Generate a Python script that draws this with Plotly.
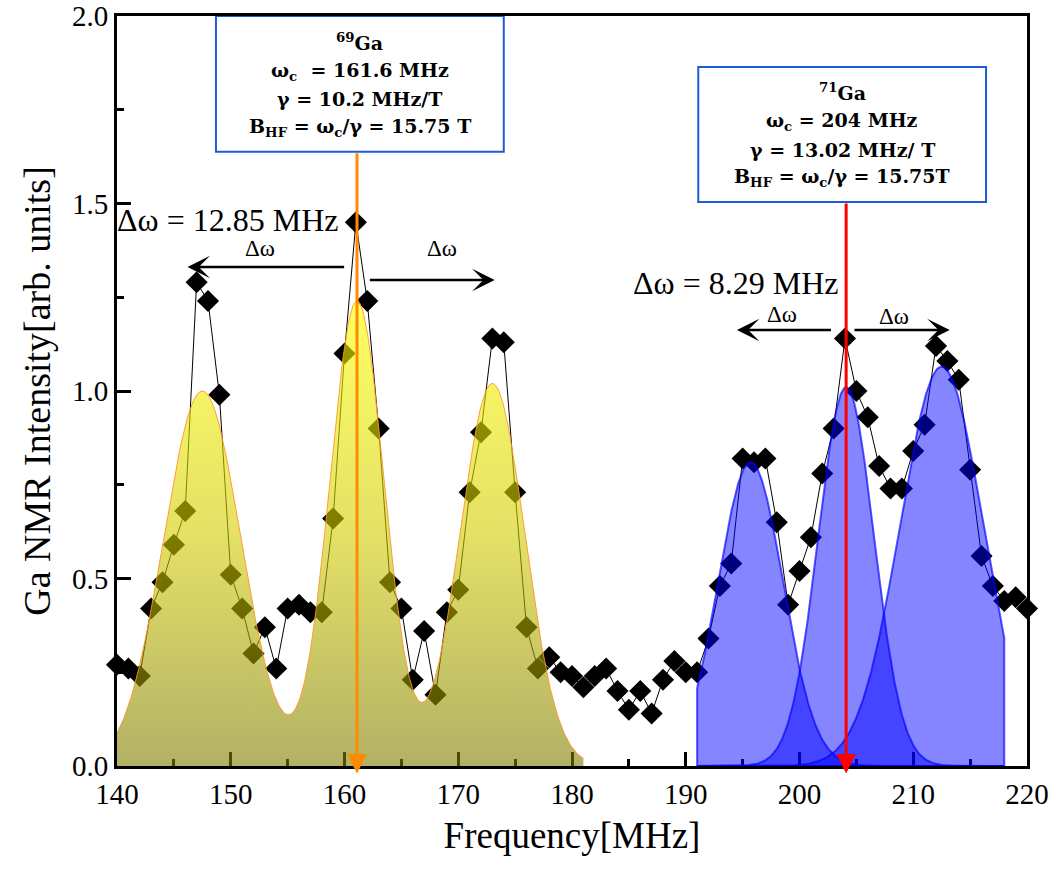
import numpy as np
import plotly.graph_objects as go

# ---------------- data ----------------
freq = list(range(140, 221))
intensity = [0.27, 0.26, 0.24, 0.42, 0.49, 0.59, 0.68, 1.29, 1.24, 0.99,
             0.51, 0.42, 0.30, 0.37, 0.26, 0.42, 0.43, 0.41, 0.41, 0.66,
             1.10, 1.45, 1.24, 0.90, 0.49, 0.42, 0.23, 0.36, 0.19, 0.41,
             0.47, 0.73, 0.89, 1.14, 1.13, 0.73, 0.37, 0.26, 0.29, 0.25,
             0.24, 0.21, 0.24, 0.26, 0.20, 0.15, 0.20, 0.14, 0.23, 0.28,
             0.25, 0.25, 0.34, 0.48, 0.54, 0.82, 0.81, 0.82, 0.65, 0.43,
             0.52, 0.61, 0.78, 0.90, 1.14, 1.00, 0.93, 0.80, 0.74, 0.74,
             0.84, 0.91, 1.12, 1.08, 1.03, 0.79, 0.56, 0.48, 0.44, 0.45,
             0.42]

# fitted Gaussian peaks (centre, amplitude, width)
ga69_centers = [147.5, 161.1, 173.0]
ga69_amps = [1.00, 1.24, 1.02]
ga69_sigmas = [3.4, 2.4, 2.85]
ga69_span = [140, 181]

ga71_centers = [195.7, 204.1, 212.5]
ga71_amps = [0.81, 1.01, 1.065]
ga71_sigmas = [2.85, 2.45, 3.65]
ga71_span = [191, 218]

ga69_line_x = 161.1
ga71_line_x = 204.1

x_ticks = [140, 150, 160, 170, 180, 190, 200, 210, 220]
y_ticks = [0.0, 0.5, 1.0, 1.5, 2.0]

box69_lines = ["<b><sup>69</sup>Ga</b>",
               "<b>ω<sub>c</sub>  = 161.6 MHz</b>",
               "<b>γ = 10.2 MHz/T</b>",
               "<b>B<sub>HF</sub> = ω<sub>c</sub>/γ = 15.75 T</b>"]
box69_line_y = [1.930, 1.851, 1.779, 1.702]
box71_lines = ["<b><sup>71</sup>Ga</b>",
               "<b>ω<sub>c</sub> = 204 MHz</b>",
               "<b>γ = 13.02 MHz/ T</b>",
               "<b>B<sub>HF</sub> = ω<sub>c</sub>/γ = 15.75T</b>"]
box71_line_y = [1.797, 1.718, 1.643, 1.569]
dw69_text = "Δω = 12.85 MHz"
dw71_text = "Δω = 8.29 MHz"
dw_small = "Δω"
x_title = "Frequency[MHz]"
y_title = "Ga NMR Intensity[arb. units]"

FONT = "Times New Roman, Liberation Serif, serif"
BOX_FONT = "DejaVu Serif, serif"


def gauss(x, c, a, s):
    return a * np.exp(-(x - c) ** 2 / (2 * s ** 2))


fig = go.Figure()

# measured spectrum
fig.add_trace(go.Scatter(
    x=freq, y=intensity, mode="lines+markers",
    line=dict(color="black", width=1),
    marker=dict(symbol="diamond", size=17, color="black"),
    cliponaxis=False, showlegend=False))

# 69Ga fit (sum of three gaussians), yellow gradient
xs = np.linspace(ga69_span[0], ga69_span[1], 500)
ys = sum(gauss(xs, c, a, s) for c, a, s in zip(ga69_centers, ga69_amps, ga69_sigmas))
fig.add_trace(go.Scatter(
    x=xs, y=ys, mode="lines", fill="tozeroy",
    line=dict(color="rgba(255,150,40,0.9)", width=1),
    fillgradient=dict(type="vertical", start=0, stop=1.24,
                      colorscale=[[0, "rgba(128,124,0,0.6)"],
                                  [0.5, "rgba(210,205,0,0.6)"],
                                  [1, "rgba(255,255,0,0.62)"]]),
    showlegend=False, hoverinfo="skip"))

# 71Ga fits, three separate blue gaussians
xb = np.linspace(ga71_span[0], ga71_span[1], 400)
for c, a, s in zip(ga71_centers, ga71_amps, ga71_sigmas):
    yb = gauss(xb, c, a, s)
    px = np.concatenate([xb, [xb[-1], xb[0], xb[0]]])
    py = np.concatenate([yb, [0, 0, yb[0]]])
    fig.add_trace(go.Scatter(
        x=px, y=py, mode="lines", fill="toself",
        fillcolor="rgba(0,0,255,0.48)",
        line=dict(color="rgba(0,0,255,0.65)", width=2),
        showlegend=False, hoverinfo="skip"))

# info boxes
fig.add_shape(type="rect", xref="x", yref="y", x0=148.7, x1=174.0, y0=1.638, y1=2.0,
              fillcolor="white", line=dict(color="#1F5BD8", width=2), layer="above")
fig.add_shape(type="rect", xref="x", yref="y", x0=191.1, x1=216.4, y0=1.504, y1=1.864,
              fillcolor="white", line=dict(color="#1F5BD8", width=2), layer="above")

for t, y in zip(box69_lines, box69_line_y):
    fig.add_annotation(x=161.35, y=y, xref="x", yref="y", text=t, showarrow=False,
                       font=dict(family=BOX_FONT, size=19, color="black"), align="center")
for t, y in zip(box71_lines, box71_line_y):
    fig.add_annotation(x=203.75, y=y, xref="x", yref="y", text=t, showarrow=False,
                       font=dict(family=BOX_FONT, size=19, color="black"), align="center")


def arrow(x_tail, y_tail, x_head, y_head, color, width, head, size):
    fig.add_annotation(x=x_head, y=y_head, ax=x_tail, ay=y_tail,
                       xref="x", yref="y", axref="x", ayref="y",
                       text="", showarrow=True, arrowhead=head, arrowsize=size,
                       arrowwidth=width, arrowcolor=color, standoff=0, startstandoff=0)


# vertical centre lines
arrow(ga69_line_x, 1.638, ga69_line_x, -0.02, "#FF8C00", 3, 2, 1.3)
arrow(ga71_line_x, 1.504, ga71_line_x, -0.02, "#FF0000", 3, 2, 1.3)

# delta-omega arrows
arrow(160.1, 1.331, 146.2, 1.331, "black", 2.5, 3, 1.5)
arrow(162.1, 1.296, 173.2, 1.296, "black", 2.5, 3, 1.5)
arrow(202.9, 1.163, 194.5, 1.163, "black", 2.5, 3, 1.5)
arrow(204.7, 1.163, 213.2, 1.163, "black", 2.5, 3, 1.5)

for (x, y, t, sz) in [(149.7, 1.456, dw69_text, 32), (194.4, 1.288, dw71_text, 32),
                      (152.6, 1.38, dw_small, 23), (168.6, 1.38, dw_small, 23),
                      (198.5, 1.203, dw_small, 23), (208.3, 1.198, dw_small, 23)]:
    fig.add_annotation(x=x, y=y, xref="x", yref="y", text=t, showarrow=False,
                       font=dict(family=FONT, size=sz, color="black"))

axis_common = dict(
    showline=True, linecolor="black", linewidth=3, mirror=True,
    ticks="inside", ticklen=14, tickwidth=2.5, tickcolor="black",
    showgrid=False, zeroline=False, layer="below traces",
    ticklabeloverflow="allow",
    tickfont=dict(family=FONT, size=29, color="black"),
)

fig.update_xaxes(range=[140, 220], tickvals=x_ticks, ticktext=[str(v) for v in x_ticks],
                 minor=dict(ticks="inside", ticklen=7, tickwidth=2.5, dtick=5, tick0=140,
                            tickcolor="black", showgrid=False),
                 title=dict(text=x_title, font=dict(family=FONT, size=37, color="black"),
                            standoff=14),
                 **axis_common)
fig.update_yaxes(range=[0, 2], tickvals=y_ticks, ticktext=[f"{v:.1f}" for v in y_ticks],
                 minor=dict(ticks="inside", ticklen=7, tickwidth=2.5, dtick=0.25, tick0=0,
                            tickcolor="black", showgrid=False),
                 title=dict(text=y_title, font=dict(family=FONT, size=38, color="black"),
                            standoff=10),
                 **axis_common)

fig.update_layout(
    width=1049, height=875,
    margin=dict(l=117, r=22, t=16, b=109, autoexpand=False),
    plot_bgcolor="white", paper_bgcolor="white",
    font=dict(family=FONT, color="black"),
    showlegend=False,
)

# remove the default 8px page margin so the figure fills the window exactly
fig.write_html("out.html",
               config={"displayModeBar": False},
               post_script="document.body.style.margin='0';"
                           "document.body.style.overflow='hidden';")
